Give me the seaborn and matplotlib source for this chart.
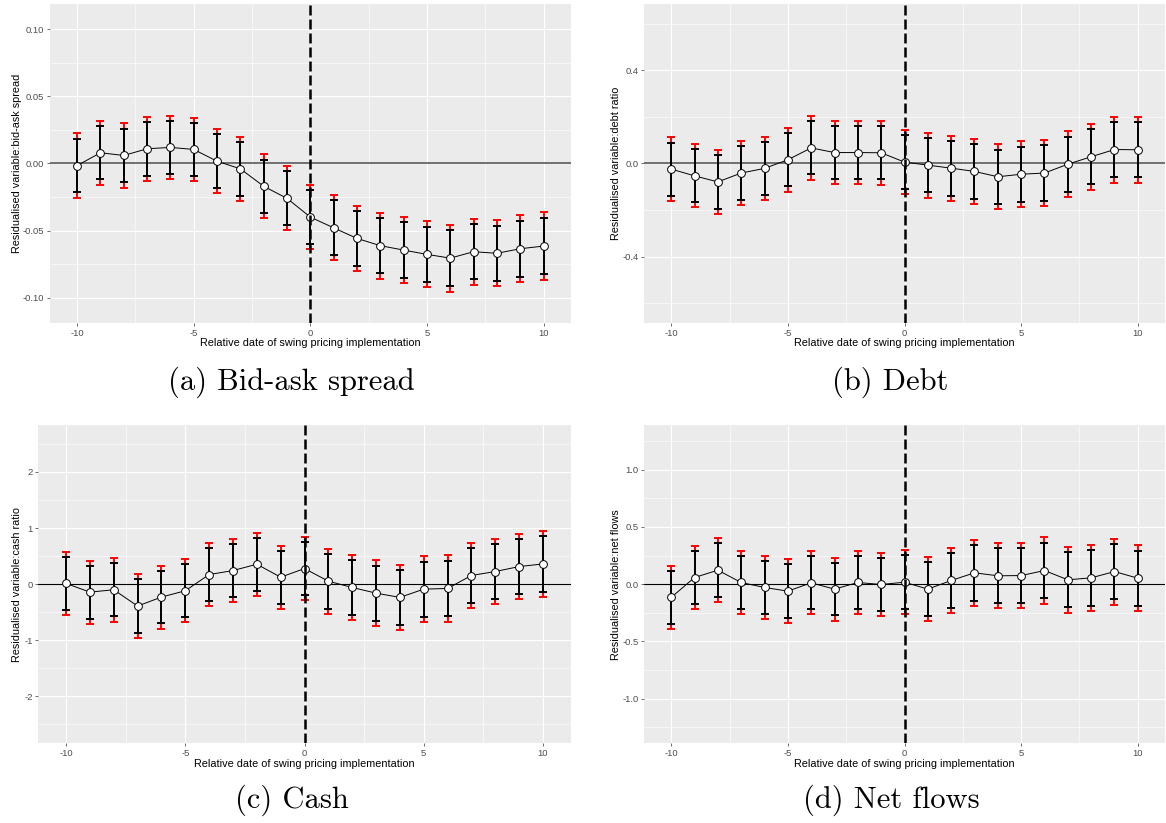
import numpy as np
import matplotlib
matplotlib.use("Agg")
import matplotlib.pyplot as plt
from matplotlib.ticker import FixedLocator
import seaborn as sns

# ---------------- data ----------------
rel_dates = list(range(-10, 11))

spread_coef = [-0.0015, 0.008, 0.006, 0.011, 0.012, 0.0105, 0.0017, -0.004, -0.017, -0.026, -0.040,
               -0.048, -0.0559, -0.0613, -0.0646, -0.0678, -0.0706, -0.0658, -0.067, -0.0636, -0.0616]
spread_se = [0.0122, 0.0121, 0.0122, 0.0122, 0.0121, 0.0120, 0.0122, 0.0122, 0.0121, 0.0122, 0.0123,
             0.0124, 0.0125, 0.0125, 0.0126, 0.0126, 0.0128, 0.0126, 0.0126, 0.0128, 0.0128]

debt_coef = [-0.024, -0.053, -0.079, -0.041, -0.021, 0.016, 0.067, 0.047, 0.047, 0.046, 0.006,
             -0.007, -0.020, -0.034, -0.057, -0.046, -0.041, -0.003, 0.029, 0.060, 0.059]
debt_se = [0.0693, 0.0693, 0.0699, 0.0699, 0.0693, 0.0696, 0.0693, 0.0693, 0.0693, 0.0696, 0.0705,
           0.0711, 0.0714, 0.0717, 0.0711, 0.0720, 0.0730, 0.0723, 0.0720, 0.0723, 0.0723]

cash_coef = [0.012, -0.142, -0.100, -0.390, -0.230, -0.118, 0.171, 0.242, 0.355, 0.124, 0.278,
             0.053, -0.059, -0.160, -0.236, -0.089, -0.077, 0.154, 0.225, 0.313, 0.360]
cash_se = [0.287, 0.287, 0.289, 0.288, 0.286, 0.287, 0.289, 0.286, 0.287, 0.288, 0.290,
           0.296, 0.298, 0.298, 0.296, 0.298, 0.302, 0.298, 0.296, 0.298, 0.302]

flows_coef = [-0.116, 0.058, 0.122, 0.0145, -0.029, -0.061, 0.0116, -0.0435, 0.0145, -0.003, 0.017,
              -0.0435, 0.032, 0.099, 0.073, 0.075, 0.119, 0.038, 0.055, 0.110, 0.052]
flows_se = [0.140, 0.141, 0.142, 0.141, 0.140, 0.142, 0.141, 0.140, 0.141, 0.142, 0.143,
            0.143, 0.146, 0.147, 0.145, 0.146, 0.148, 0.146, 0.147, 0.147, 0.147]

x_ticks = [-10, -5, 0, 5, 10]
x_ticklabels = ["-10", "-5", "0", "5", "10"]

panels = [
    dict(coef=spread_coef, se=spread_se, ylabel="Residualised variable:bid-ask spread",
         ylim=(-0.119, 0.119), yticks=[-0.10, -0.05, 0.00, 0.05, 0.10],
         yticklabels=["-0.10", "-0.05", "0.00", "0.05", "0.10"],
         yminor=[-0.075, -0.025, 0.025, 0.075], caption="(a) Bid-ask spread",
         hcol="#595959", hlw=1.2),
    dict(coef=debt_coef, se=debt_se, ylabel="Residualised variable:debt ratio",
         ylim=(-0.685, 0.685), yticks=[-0.4, 0.0, 0.4],
         yticklabels=["-0.4", "0.0", "0.4"],
         yminor=[-0.6, -0.2, 0.2, 0.6], caption="(b) Debt",
         hcol="#595959", hlw=1.2),
    dict(coef=cash_coef, se=cash_se, ylabel="Residualised variable:cash ratio",
         ylim=(-2.835, 2.835), yticks=[-2, -1, 0, 1, 2],
         yticklabels=["-2", "-1", "0", "1", "2"],
         yminor=[-2.5, -1.5, -0.5, 0.5, 1.5, 2.5], caption="(c) Cash",
         hcol="black", hlw=0.8),
    dict(coef=flows_coef, se=flows_se, ylabel="Residualised variable:net flows",
         ylim=(-1.39, 1.39), yticks=[-1.0, -0.5, 0.0, 0.5, 1.0],
         yticklabels=["-1.0", "-0.5", "0.0", "0.5", "1.0"],
         yminor=[-1.25, -0.75, -0.25, 0.25, 0.75, 1.25], caption="(d) Net flows",
         hcol="black", hlw=0.8),
]

# ---------------- layout ----------------
W, H = 1166, 823
boxes = [  # left, top, right, bottom in pixels
    (50, 4, 570.7, 323),
    (644, 4, 1165, 323),
    (38.3, 425, 570.7, 743.3),
    (644, 425, 1165, 743.3),
]
ylabel_x_px = [16.7, 616, 16.7, 616]
caption_pos = [(291, 390), (890, 390), (292, 808), (891, 808)]

sns.set_theme(style="darkgrid", rc={
    "axes.facecolor": "#EBEBEB",
    "grid.color": "white",
    "axes.unicode_minus": False,
})
plt.rcParams["font.family"] = ["Liberation Sans", "DejaVu Sans"]

fig = plt.figure(figsize=(W / 100, H / 100), dpi=100)
fig.patch.set_facecolor("white")

z90, z95 = 1.645, 1.96

for p, (l, t, r, b), ylx, (cx, cy) in zip(panels, boxes, ylabel_x_px, caption_pos):
    ax = fig.add_axes([l / W, 1 - b / H, (r - l) / W, (b - t) / H])
    x = np.array(rel_dates)
    coef = np.array(p["coef"])
    se = np.array(p["se"])

    ax.axhline(0, color=p["hcol"], lw=p["hlw"], zorder=1.5)
    ax.errorbar(x, coef, yerr=z95 * se, fmt="none", ecolor="#FF0000",
                elinewidth=1.4, capsize=2.6, capthick=1.4, zorder=2)
    ax.errorbar(x, coef, yerr=z90 * se, fmt="none", ecolor="black",
                elinewidth=1.4, capsize=2.6, capthick=1.4, zorder=3)
    sns.lineplot(x=x, y=coef, ax=ax, color="black", lw=0.7, marker="o",
                 markersize=5.6, markerfacecolor="white", markeredgecolor="black",
                 markeredgewidth=0.7, zorder=4)
    ax.axvline(0, color="black", lw=1.8, linestyle=(0, (4.0, 1.6)), zorder=5)

    ax.set_xlim(-11.165, 11.165)
    ax.set_ylim(*p["ylim"])
    ax.set_xticks(x_ticks)
    ax.set_xticklabels(x_ticklabels)
    ax.set_yticks(p["yticks"])
    ax.set_yticklabels(p["yticklabels"])
    ax.xaxis.set_minor_locator(FixedLocator([-7.5, -2.5, 2.5, 7.5]))
    ax.yaxis.set_minor_locator(FixedLocator(p["yminor"]))
    ax.grid(True, which="major", color="white", lw=0.8)
    ax.grid(True, which="minor", color="white", lw=0.4)
    ax.tick_params(which="major", bottom=True, left=True, length=2, width=0.5,
                   color="#333333", labelcolor="#4D4D4D", labelsize=6.8, pad=2)
    ax.tick_params(which="minor", length=0)
    for s in ax.spines.values():
        s.set_visible(False)

    ax.set_xlabel("Relative date of swing pricing implementation", fontsize=7.8, color="black")
    ax.set_ylabel(p["ylabel"], fontsize=7.8, color="black")
    ax.xaxis.label.set_va("center")
    ax.yaxis.label.set_va("center")
    ax.xaxis.set_label_coords(0.5, -20.5 / (b - t))
    ax.yaxis.set_label_coords((ylx - l) / (r - l), 0.5)

    fig.text(cx / W, 1 - cy / H, p["caption"], family="cmr10", fontsize=22,
             ha="center", va="baseline", color="black")

fig.savefig("out.png", dpi=100, facecolor="white")
